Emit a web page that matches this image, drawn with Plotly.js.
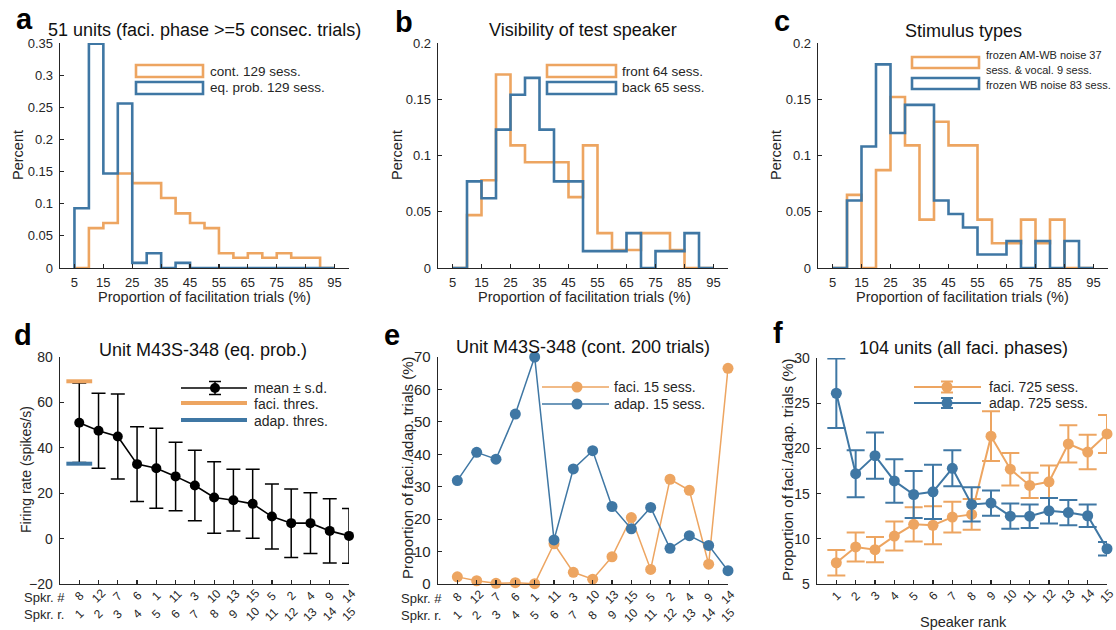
<!DOCTYPE html>
<html><head><meta charset="utf-8">
<script src="https://cdn.plot.ly/plotly-3.0.1.min.js"></script>
<style>html,body{margin:0;padding:0;background:#fff}</style>
</head><body><div id="chart" style="width:1116px;height:630px"></div>
<script>
// ---------- DATA ----------
const binEdges = [5,10,15,20,25,30,35,40,45,50,55,60,65,70,75,80,85,90,95];
const histTicks = [5,15,25,35,45,55,65,75,85,95];
// panel a
const aCont = [0,0.062,0.070,0.147,0.132,0.132,0.109,0.085,0.070,0.062,0.023,0.016,0.023,0.016,0.023,0.016,0.016,0];
const aEqProb = [0.093,0.349,0.147,0.256,0.008,0.023,0,0.008,0,0,0,0,0,0,0,0,0,0];
// panel b
const bFront = [0,0.047,0.078,0.172,0.109,0.094,0.094,0.094,0.063,0.109,0.031,0.016,0.016,0.031,0.031,0.016,0,0];
const bBack = [0,0.077,0.062,0.123,0.154,0.169,0.123,0.077,0.077,0.015,0.015,0.015,0.031,0,0.015,0.015,0.031,0];
// panel c
const cAMvocal = [0,0.065,0,0.087,0.152,0.109,0.043,0.130,0.109,0.109,0.043,0.022,0.022,0.043,0.022,0.043,0,0];
const cWB = [0,0.060,0.108,0.181,0.120,0.145,0.145,0.060,0.048,0.036,0.012,0.012,0.024,0,0.024,0,0.024,0];
// panels d-f
const ranks = [1,2,3,4,5,6,7,8,9,10,11,12,13,14,15];
const spkrNum = [8,12,7,6,1,11,3,10,13,15,5,2,4,9,14];
const dMean = [51,47.5,45,32.8,31,27.4,23.4,18.1,16.9,15.3,9.7,6.8,6.8,3.4,1.2];
const dSD = [17.5,16.5,18.7,16.5,17.6,15.1,15.5,15.7,13.6,15.2,14.3,15.1,13.4,14.2,12.1];
const faciThres = 69.3, adapThres = 33;
const thresSpan = [0.33,1.67];
const eFaci = [2.2,1.0,0.2,0.4,0.1,12.4,3.6,1.5,8.4,20.5,4.5,32.3,28.9,6.1,66.5];
const eAdap = [31.9,40.6,38.5,52.4,70,13.6,35.5,41.1,23.9,17.0,23.6,11.0,14.9,11.9,4.1];
const fFaci = [7.35,9.1,8.8,10.3,11.6,11.5,12.4,12.7,21.35,17.7,15.9,16.3,20.5,19.6,21.6];
const fFaciErr = [1.4,1.6,1.4,1.6,1.9,2.1,1.7,1.7,2.75,1.8,1.4,1.8,2.05,1.9,2.1];
const fAdap = [26.1,17.2,19.2,16.4,14.9,15.2,17.8,13.8,13.95,12.5,12.5,13.1,12.9,12.55,8.9];
const fAdapErr = [3.85,2.6,2.55,2.4,2.6,3.0,2.0,1.9,1.4,1.4,1.3,1.4,1.4,1.25,0.75];

// ---------- STYLE ----------
const W = 1116, H = 630;
const P = x => x / W, Q = y => 1 - y / H;
const OR = '#EDA561', BL = '#3F77A4', AX = '#262626';
const FONT = 'Liberation Sans, Arial, Helvetica, sans-serif';

function stairs(edges, vals){
  const x=[edges[0]], y=[0];
  for(let i=0;i<vals.length;i++){ x.push(edges[i]); y.push(vals[i]); }
  x.push(edges[edges.length-1]); y.push(vals[vals.length-1]);
  x.push(edges[edges.length-1]); y.push(0);
  return {x, y};
}
function histTrace(vals, color, ax){
  const s = stairs(binEdges, vals);
  return {x:s.x, y:s.y, xaxis:'x'+ax, yaxis:'y'+ax, type:'scatter', mode:'lines',
    line:{shape:'hv', color:color, width:2.6}, cliponaxis:false, hoverinfo:'skip'};
}

const traces = [
  histTrace(aCont, OR, ''), histTrace(aEqProb, BL, ''),
  histTrace(bFront, OR, '2'), histTrace(bBack, BL, '2'),
  histTrace(cAMvocal, OR, '3'), histTrace(cWB, BL, '3'),
  {x:ranks, y:dMean, xaxis:'x4', yaxis:'y4', type:'scatter', mode:'lines+markers',
   line:{color:'#000', width:1.6}, marker:{color:'#000', size:10},
   error_y:{type:'data', array:dSD, visible:true, color:'#000', thickness:1.5, width:7}, cliponaxis:false},
  {x:thresSpan, y:[faciThres,faciThres], xaxis:'x4', yaxis:'y4', type:'scatter', mode:'lines',
   line:{color:OR, width:4}, cliponaxis:false},
  {x:thresSpan, y:[adapThres,adapThres], xaxis:'x4', yaxis:'y4', type:'scatter', mode:'lines',
   line:{color:BL, width:4}, cliponaxis:false},
  {x:ranks, y:eFaci, xaxis:'x5', yaxis:'y5', type:'scatter', mode:'lines+markers',
   line:{color:OR, width:1.5}, marker:{color:OR, size:11}, cliponaxis:false},
  {x:ranks, y:eAdap, xaxis:'x5', yaxis:'y5', type:'scatter', mode:'lines+markers',
   line:{color:BL, width:1.5}, marker:{color:BL, size:11}, cliponaxis:false},
  {x:ranks, y:fFaci, xaxis:'x6', yaxis:'y6', type:'scatter', mode:'lines+markers',
   line:{color:OR, width:2}, marker:{color:OR, size:11},
   error_y:{type:'data', array:fFaciErr, visible:true, color:OR, thickness:2, width:9}, cliponaxis:false},
  {x:ranks, y:fAdap, xaxis:'x6', yaxis:'y6', type:'scatter', mode:'lines+markers',
   line:{color:BL, width:2}, marker:{color:BL, size:11},
   error_y:{type:'data', array:fAdapErr, visible:true, color:BL, thickness:2, width:9}, cliponaxis:false}
];

function xax(px0, px1, anchor, extra){
  return Object.assign({domain:[P(px0),P(px1)], anchor:anchor, showline:true, linecolor:AX, linewidth:1.4,
    ticks:'inside', ticklen:4, tickwidth:1.2, tickcolor:AX, showgrid:false, zeroline:false,
    tickfont:{family:FONT, size:13, color:AX}, ticklabelstandoff:2, fixedrange:true}, extra);
}
function yax(py0, py1, anchor, extra){
  return Object.assign({domain:[Q(py1),Q(py0)], anchor:anchor, showline:true, linecolor:AX, linewidth:1.4,
    ticks:'inside', ticklen:4, tickwidth:1.2, tickcolor:AX, showgrid:false, zeroline:false,
    tickfont:{family:FONT, size:13, color:AX}, ticklabelstandoff:3, fixedrange:true}, extra);
}

const layout = {
  width:W, height:H, autosize:false, showlegend:false,
  margin:{l:0,r:0,t:0,b:0}, paper_bgcolor:'#fff', plot_bgcolor:'rgba(0,0,0,0)',
  font:{family:FONT, color:AX},
  xaxis: xax(60,349,'y',{range:[0,100], tickvals:histTicks}),
  yaxis: yax(43,268,'x',{range:[0,0.35], dtick:0.05, tick0:0}),
  xaxis2: xax(438,728,'y2',{range:[0,100], tickvals:histTicks}),
  yaxis2: yax(43,268,'x2',{range:[0,0.2], dtick:0.05, tick0:0}),
  xaxis3: xax(818,1108,'y3',{range:[0,100], tickvals:histTicks}),
  yaxis3: yax(43,268,'x3',{range:[0,0.2], dtick:0.05, tick0:0}),
  xaxis4: xax(60,349,'y4',{range:[0,15], tickvals:ranks, showticklabels:false}),
  yaxis4: yax(357,584,'x4',{range:[-20,80], dtick:20, tick0:0, tickfont:{family:FONT,size:14,color:AX}}),
  xaxis5: xax(438,728,'y5',{range:[0,15], tickvals:ranks, showticklabels:false}),
  yaxis5: yax(357,584,'x5',{range:[0,70], dtick:10, tick0:0, tickfont:{family:FONT,size:15,color:AX}}),
  xaxis6: xax(817,1107,'y6',{range:[0,15], tickvals:ranks, showticklabels:false}),
  yaxis6: yax(358,584,'x6',{range:[5,30], dtick:5, tick0:5, tickfont:{family:FONT,size:14,color:AX}}),
  annotations: [], shapes: []
};

const A = layout.annotations, S = layout.shapes;
function txt(text, x, y, size, opts){
  A.push(Object.assign({text:text, x:P(x), y:Q(y), xref:'paper', yref:'paper', showarrow:false,
    xanchor:'center', yanchor:'middle', font:{family:FONT, size:size, color:'#111'}}, opts||{}));
}
function gtxt(text, x, y, size, opts){
  txt(text, x, y, size, Object.assign({font:{family:FONT,size:size,color:AX}}, opts||{}));
}
// panel letters
[['a',24,19],['b',404,22],['c',782,21],['d',23,335],['e',392,335],['f',778,333]].forEach(l=>{
  txt('<b>'+l[0]+'</b>', l[1], l[2], 29, {font:{family:FONT,size:29,color:'#000'}});
});
// titles
txt('51 units (faci. phase >=5 consec. trials)', 204, 30, 18);
txt('Visibility of test speaker', 583, 30, 18);
txt('Stimulus types', 963, 31, 18);
txt('Unit M43S-348 (eq. prob.)', 203, 350, 18);
txt('Unit M43S-348 (cont. 200 trials)', 583, 347, 18);
txt('104 units (all faci. phases)', 963, 348, 18);
// axis titles
[204,584,962].forEach(x=>gtxt('Proportion of facilitation trials (%)', x, 297, 14.5));
[18,397,776].forEach(x=>gtxt('Percent', x, 155, 14.5, {textangle:-90}));
gtxt('Firing rate (spikes/s)', 26, 470, 14, {textangle:-90});
gtxt('Proportion of faci./adap. trials (%)', 407, 468, 15, {textangle:-90});
gtxt('Proportion of faci./adap. trials (%)', 787, 470, 15, {textangle:-90});
gtxt('Speaker rank', 963, 622, 14.5);
// speaker rows
function rowLabels(axis, labels, ypx, size){
  ranks.forEach((r,i)=>{
    A.push({text:String(labels[i]), x:r, y:Q(ypx), xref:axis, yref:'paper', showarrow:false,
      xanchor:'center', yanchor:'middle', textangle:-45, font:{family:FONT,size:size,color:AX}});
  });
}
rowLabels('x4', spkrNum, 596, 12); rowLabels('x4', ranks, 614, 12);
rowLabels('x5', spkrNum, 597, 12); rowLabels('x5', ranks, 615, 12);
rowLabels('x6', ranks, 596, 12);
gtxt('Spkr. #', 22, 597, 13, {xanchor:'left'});
gtxt('Spkr. r.', 22, 614, 13, {xanchor:'left'});
gtxt('Spkr. #', 399, 598, 13, {xanchor:'left'});
gtxt('Spkr. r.', 399, 615, 13, {xanchor:'left'});

// legends (panels a-c): outlined boxes
function box(x0,y0,x1,y1,color){
  S.push({type:'rect', xref:'paper', yref:'paper', x0:P(x0), x1:P(x1), y0:Q(y1), y1:Q(y0),
    line:{color:color, width:2.6}, fillcolor:'rgba(255,255,255,0)'});
}
box(136,65,203,77,OR); box(136,82,203,94,BL);
gtxt('cont. 129 sess.', 208, 71, 13.5, {xanchor:'left'});
gtxt('eq. prob. 129 sess.', 208, 88, 13.5, {xanchor:'left'});
box(547,65,616,77,OR); box(547,82,616,94,BL);
gtxt('front 64 sess.', 620, 71, 13.5, {xanchor:'left'});
gtxt('back 65 sess.', 620, 88, 13.5, {xanchor:'left'});
box(912,57,979,68,OR); box(912,78,979,89,BL);
gtxt('frozen AM-WB noise 37', 984, 55, 11, {xanchor:'left'});
gtxt('sess. &amp; vocal. 9 sess.', 984, 70, 11, {xanchor:'left'});
gtxt('frozen WB noise 83 sess.', 984, 85, 11, {xanchor:'left'});

// legends (panels d-f)
function hline(x0,x1,y,color,w){
  S.push({type:'line', xref:'paper', yref:'paper', x0:P(x0), x1:P(x1), y0:Q(y), y1:Q(y), line:{color:color,width:w}});
}
function vline(x,y0,y1,color,w){
  S.push({type:'line', xref:'paper', yref:'paper', x0:P(x), x1:P(x), y0:Q(y0), y1:Q(y1), line:{color:color,width:w}});
}
function dot(cx,cy,r,color){
  S.push({type:'circle', xref:'paper', yref:'paper', x0:P(cx-r), x1:P(cx+r), y0:Q(cy+r), y1:Q(cy-r),
    fillcolor:color, line:{color:color,width:0}});
}
function errGlyph(cx,cy,h,cw,color,w){
  vline(cx,cy-h,cy+h,color,w); hline(cx-cw,cx+cw,cy-h,color,w); hline(cx-cw,cx+cw,cy+h,color,w);
}
hline(181,247,388,'#000',1.6); errGlyph(215,388,6.5,6,'#000',1.5); dot(215,388,5,'#000');
gtxt('mean ± s.d.', 252, 388, 14, {xanchor:'left'});
hline(181,247,403,OR,4);
gtxt('faci. thres.', 252, 404, 14, {xanchor:'left'});
hline(181,247,420,BL,4);
gtxt('adap. thres.', 252, 421, 14, {xanchor:'left'});

hline(542,609,387,OR,1.5); dot(577,387,5.5,OR);
gtxt('faci. 15 sess.', 612, 387, 14, {xanchor:'left'});
hline(542,609,404,BL,1.5); dot(577,404,5.5,BL);
gtxt('adap. 15 sess.', 612, 404, 14, {xanchor:'left'});

hline(914,981,387,OR,2); errGlyph(947,387,5.5,6,OR,2); dot(947,387,5.5,OR);
gtxt('faci. 725 sess.', 987, 387, 14, {xanchor:'left'});
hline(914,981,403,BL,2); errGlyph(947,403,5,6,BL,2); dot(947,403,5.5,BL);
gtxt('adap. 725 sess.', 987, 403, 14, {xanchor:'left'});

Plotly.newPlot('chart', traces, layout, {staticPlot:true, displayModeBar:false});
</script></body></html>
